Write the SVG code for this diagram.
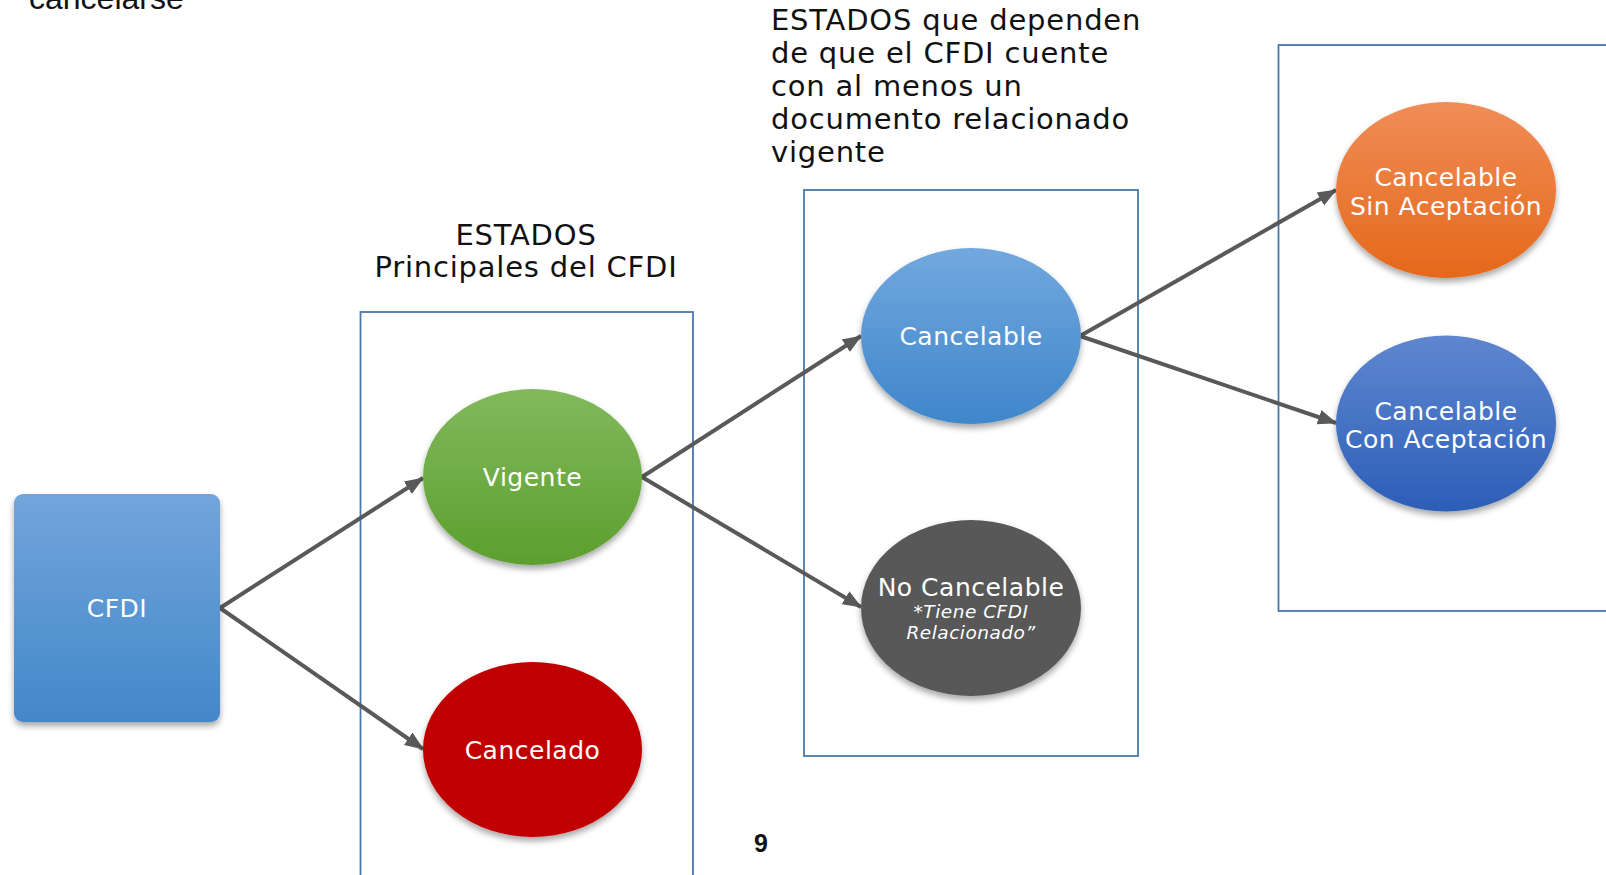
<svg xmlns="http://www.w3.org/2000/svg" width="1606" height="875" viewBox="0 0 1606 875">
<defs>
<style>
.box{fill:none;stroke:#4a78ad;stroke-width:1.8}
.title{font-family:"DejaVu Sans",Verdana,sans-serif;font-size:29px;letter-spacing:0.8px;fill:#111}
.lbl{font-family:"DejaVu Sans",Verdana,sans-serif;font-size:25px;letter-spacing:0.5px;fill:#fff;text-anchor:middle}
.sub{font-family:"DejaVu Sans",Verdana,sans-serif;font-size:18.5px;letter-spacing:0.5px;font-style:italic;fill:#fff;text-anchor:middle}
.conn{stroke:#595959;stroke-width:4;fill:none;marker-end:url(#ah)}
</style>
<marker id="ah" markerUnits="userSpaceOnUse" markerWidth="19" markerHeight="17" viewBox="0 0 19 17" refX="18" refY="8.5" orient="auto">
<path d="M0,1 L19,8.5 L0,16 Z" fill="#595959"/>
</marker>
<filter id="sh" x="-20%" y="-20%" width="140%" height="150%">
<feDropShadow dx="0" dy="4" stdDeviation="3" flood-color="#000" flood-opacity="0.35"/>
</filter>
<linearGradient id="gCfdi" x1="0" y1="0" x2="0" y2="1"><stop offset="0" stop-color="#72a5db"/><stop offset="1" stop-color="#4388ca"/></linearGradient>
<linearGradient id="gVig" x1="0" y1="0" x2="0" y2="1"><stop offset="0" stop-color="#82b95c"/><stop offset="1" stop-color="#5c9f2e"/></linearGradient>
<linearGradient id="gCan" x1="0" y1="0" x2="0" y2="1"><stop offset="0" stop-color="#71a8de"/><stop offset="1" stop-color="#3f86cb"/></linearGradient>
<linearGradient id="gSin" x1="0" y1="0" x2="0" y2="1"><stop offset="0" stop-color="#f08d57"/><stop offset="1" stop-color="#e5681a"/></linearGradient>
<linearGradient id="gCon" x1="0" y1="0" x2="0" y2="1"><stop offset="0" stop-color="#5f87d0"/><stop offset="1" stop-color="#2c5eb7"/></linearGradient>
</defs>
<rect width="1606" height="875" fill="#fff"/>

<text x="29" y="9" font-family="'Liberation Sans',Arial,sans-serif" font-size="32" fill="#111">cancelarse</text>

<g id="frame-principales">
<rect class="box" x="360.5" y="312" width="332.5" height="580"/>
<text class="title" text-anchor="middle" x="526" y="245">ESTADOS</text>
<text class="title" text-anchor="middle" x="526" y="277">Principales del CFDI</text>
</g>
<g id="frame-dependen">
<rect class="box" x="804" y="190" width="334" height="566"/>
<text class="title" x="771" y="30">ESTADOS que dependen</text>
<text class="title" x="771" y="63">de que el CFDI cuente</text>
<text class="title" x="771" y="96">con al menos un</text>
<text class="title" x="771" y="129">documento relacionado</text>
<text class="title" x="771" y="162">vigente</text>
</g>
<g id="frame-cancelable">
<rect class="box" x="1278.5" y="45" width="340" height="566"/>
</g>

<g id="connectors">
<line class="conn" x1="220" y1="608" x2="423" y2="478"/>
<line class="conn" x1="220" y1="608" x2="423" y2="749"/>
<line class="conn" x1="642" y1="477" x2="861" y2="336"/>
<line class="conn" x1="642" y1="477" x2="861" y2="607"/>
<line class="conn" x1="1080" y1="336" x2="1336" y2="190"/>
<line class="conn" x1="1080" y1="336" x2="1336" y2="423"/>
</g>

<g id="cfdi">
<rect x="14" y="494" width="206" height="228" rx="9" fill="url(#gCfdi)" filter="url(#sh)"/>
<text class="lbl" x="117" y="617" font-size="23" letter-spacing="0">CFDI</text>
</g>
<g id="vigente">
<ellipse cx="532.5" cy="477" rx="109.5" ry="88" fill="url(#gVig)" filter="url(#sh)"/>
<text class="lbl" x="532.5" y="486">Vigente</text>
</g>
<g id="cancelado">
<ellipse cx="532.5" cy="749.5" rx="109.5" ry="87.5" fill="#c00000" filter="url(#sh)"/>
<text class="lbl" x="532.5" y="759">Cancelado</text>
</g>
<g id="cancelable">
<ellipse cx="971" cy="336" rx="110" ry="88" fill="url(#gCan)" filter="url(#sh)"/>
<text class="lbl" x="971" y="345">Cancelable</text>
</g>
<g id="no-cancelable">
<ellipse cx="971" cy="608" rx="110" ry="88" fill="#595959" filter="url(#sh)"/>
<text class="lbl" x="971" y="596">No Cancelable</text>
<text class="sub" x="971" y="618">*Tiene CFDI</text>
<text class="sub" x="971" y="639">Relacionado”</text>
</g>
<g id="sin-aceptacion">
<ellipse cx="1446" cy="190" rx="110" ry="88" fill="url(#gSin)" filter="url(#sh)"/>
<text class="lbl" x="1446" y="186">Cancelable</text>
<text class="lbl" x="1446" y="215">Sin Aceptación</text>
</g>
<g id="con-aceptacion">
<ellipse cx="1446" cy="423.5" rx="110" ry="88" fill="url(#gCon)" filter="url(#sh)"/>
<text class="lbl" x="1446" y="420">Cancelable</text>
<text class="lbl" x="1446" y="448">Con Aceptación</text>
</g>

<text x="761" y="852" font-family="'Liberation Sans',Arial,sans-serif" font-size="25" font-weight="bold" fill="#111" text-anchor="middle">9</text>
</svg>
